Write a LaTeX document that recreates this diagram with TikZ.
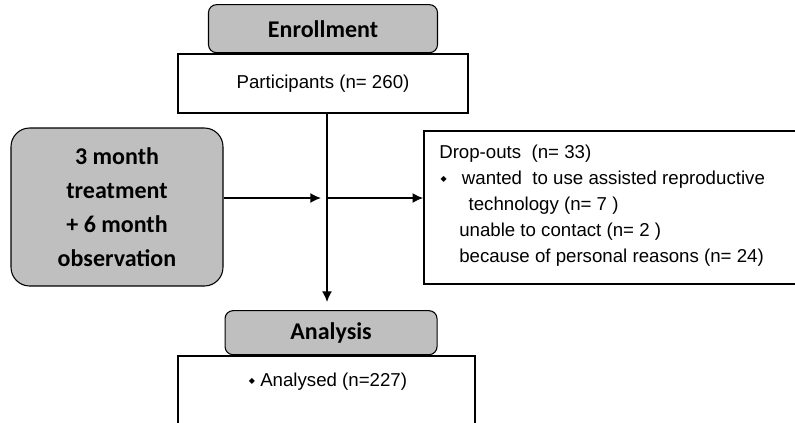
\documentclass[tikz,border=0pt]{standalone}
\usepackage{fontspec}
\setmainfont{Liberation Sans}
\newfontfamily\headfont{Carlito}
\newfontfamily\symfont{DejaVu Sans}
\newcommand{\dotmark}{\raisebox{2.6pt}{\symfont\fontsize{6}{6}\selectfont ◆}}
\usetikzlibrary{arrows, arrows.meta, positioning}

\begin{document}
\begin{tikzpicture}[x=0.75pt, y=-0.75pt]
  \tikzset{every node/.style={font=\fontsize{14}{19.5}\selectfont}, head/.style={draw, rounded corners=6pt, fill=black!25, line width=0.8pt, font=\headfont\bfseries\fontsize{18}{25.5}\selectfont, align=center, inner sep=0pt}, plain/.style={draw, line width=1.2pt, inner sep=0pt}, flow/.style={draw, -{Latex[length=8pt, width=7.5pt]}, line width=1.2pt}}
  \useasboundingbox (0,0) rectangle (795,422);
  \node[plain, minimum width=217.5pt, minimum height=44.25pt] (part) at (323,83.5) {Participants (n= 260)};
  \node[head, minimum width=171.75pt, minimum height=36pt, above=0pt of part] (enroll) {Enrollment};
  \node[head, rounded corners=14pt, minimum width=159pt, minimum height=118.5pt] (treat) at (117,207) {3 month\\treatment\\+ 6 month\\observation};
  \node[plain, minimum width=282pt, minimum height=114.75pt] (drop) at (612,207.5) {};
  \node[align=left, anchor=north west, inner sep=0pt] (droptext) at (439,145) {Drop-outs\ \ (n= 33)\\
    \makebox[17pt][l]{\hspace*{1pt}\dotmark}wanted\ \ to use assisted reproductive\\
    \hspace*{22pt}technology (n= 7 )\\
    \hspace*{15pt}unable to contact (n= 2 )\\
    \hspace*{15pt}because of personal reasons (n= 24)};
  \node[plain, minimum width=222.75pt, minimum height=55.5pt] (analysed) at (326.5,393) {};
  \node[head, minimum width=159pt, minimum height=33pt, above=0pt of analysed, xshift=3.4pt] (analysis) {Analysis};
  \node (analysedtext) at (328,382) {\dotmark\ Analysed (n=227)};
  \coordinate (join) at (321,198);
  \coordinate (split) at (327,198);
  \coordinate (stop) at (327,302);
  \draw[flow] (treat.east |- join) -- (join);
  \draw[flow] (split) -- (drop.west |- split);
  \draw[flow] (part.south -| stop) -- (stop);
\end{tikzpicture}
\end{document}
